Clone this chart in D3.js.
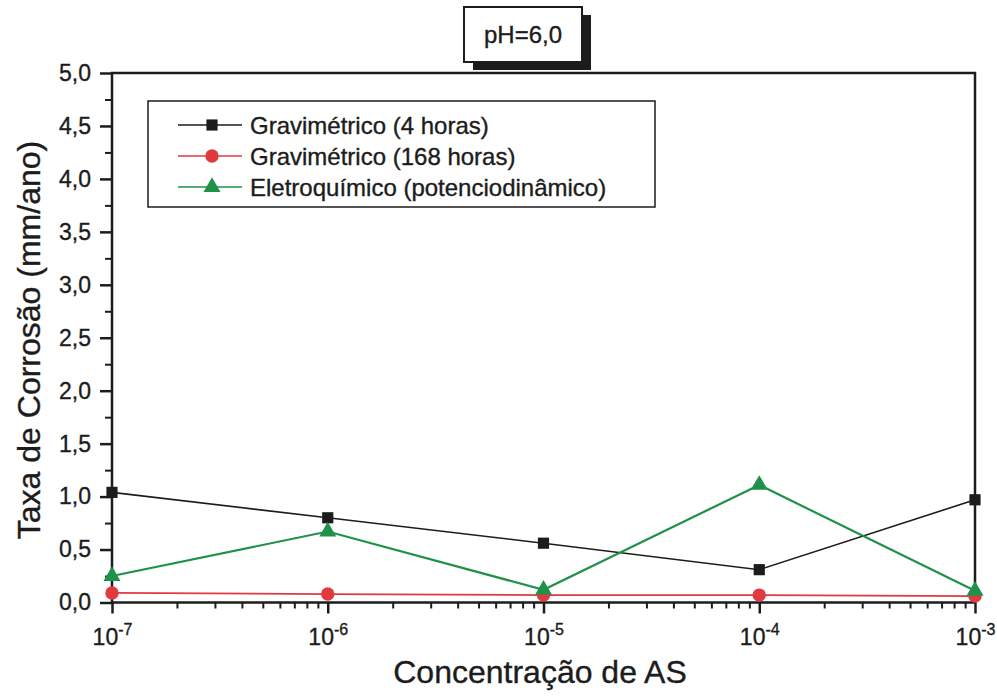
<!DOCTYPE html>
<html>
<head>
<meta charset="utf-8">
<script src="https://cdn.jsdelivr.net/npm/d3@7"></script>
<style>
  body { margin: 0; background: #fff; }
  svg { font-family: "Liberation Sans", Arial, sans-serif; }
  svg text { stroke: #1c1c1c; stroke-width: 0.35px; }
</style>
</head>
<body>
<svg id="chart" width="997" height="698"></svg>
<script>
// data
const concentrations = [1e-7, 1e-6, 1e-5, 1e-4, 1e-3];
const exponents = ['-7', '-6', '-5', '-4', '-3'];
const grav4h = [1.04, 0.80, 0.56, 0.31, 0.97];
const grav168h = [0.09, 0.08, 0.07, 0.07, 0.06];
const eletroquimico = [0.25, 0.67, 0.12, 1.11, 0.11];
const yTicks = [0, 0.5, 1, 1.5, 2, 2.5, 3, 3.5, 4, 4.5, 5];
const seriesNames = ['Gravimétrico (4 horas)', 'Gravimétrico (168 horas)', 'Eletroquímico (potenciodinâmico)'];
const title = 'pH=6,0';
const xTitle = 'Concentração de AS';
const yTitle = 'Taxa de Corrosão (mm/ano)';

const margin = {top: 73, right: 22, bottom: 96, left: 112};
const width = 997 - margin.left - margin.right;
const height = 698 - margin.top - margin.bottom + 0.5;

const svg = d3.select('#chart');
const chart = svg.append('g')
  .attr('transform', 'translate(' + margin.left + ',' + margin.top + ')');

const x = d3.scaleLog().domain([1e-7, 1e-3]).range([0, width]);
const y = d3.scaleLinear().domain([0, 5]).range([height, 0]);

const ink = '#1c1c1c';

// minor ticks
const xMinor = [];
concentrations.slice(0, -1).forEach((c) => {
  for (let k = 2; k <= 9; k++) xMinor.push(c * k);
});
const yMinor = d3.range(0.25, 5, 0.5);

chart.append('g')
  .attr('transform', 'translate(0,' + height + ')')
  .call(d3.axisBottom(x).tickValues(xMinor).tickSize(6).tickFormat(''))
  .call((g) => g.select('.domain').remove())
  .selectAll('line').attr('stroke', ink).attr('stroke-width', 2);

chart.append('g')
  .call(d3.axisLeft(y).tickValues(yMinor).tickSize(7).tickFormat(''))
  .call((g) => g.select('.domain').remove())
  .selectAll('line').attr('stroke', ink).attr('stroke-width', 2);

// major ticks
const xAxis = chart.append('g')
  .attr('transform', 'translate(0,' + height + ')')
  .call(d3.axisBottom(x).tickValues(concentrations).tickSize(11).tickFormat(''));
xAxis.select('.domain').remove();
xAxis.selectAll('line').attr('stroke', ink).attr('stroke-width', 2.5);
xAxis.selectAll('.tick').append('text')
  .attr('y', 42)
  .attr('fill', ink)
  .attr('text-anchor', 'middle')
  .style('font-size', '23px')
  .each(function(d, i) {
    const t = d3.select(this);
    t.append('tspan').text('10');
    t.append('tspan').attr('dy', -10).style('font-size', '16px').text(exponents[i]);
  });

const yAxis = chart.append('g')
  .call(d3.axisLeft(y).tickValues(yTicks).tickSize(12).tickPadding(8)
    .tickFormat((d) => d3.format('.1f')(d).replace('.', ',')));
yAxis.select('.domain').remove();
yAxis.selectAll('line').attr('stroke', ink).attr('stroke-width', 2.5);
yAxis.selectAll('text').attr('fill', ink).attr('x', -21).style('font-size', '23px');

// frame
chart.append('rect')
  .attr('width', width)
  .attr('height', height)
  .attr('fill', 'none')
  .attr('stroke', ink)
  .attr('stroke-width', 2.5);

// series
const series = [
  {name: seriesNames[0], values: grav4h, color: '#1c1c1c', width: 1.6, symbol: d3.symbolSquare, size: 125},
  {name: seriesNames[1], values: grav168h, color: '#e03a40', width: 1.8, symbol: d3.symbolCircle, size: 140},
  {name: seriesNames[2], values: eletroquimico, color: '#1f9148', width: 2.2, symbol: d3.symbolTriangle, size: 125}
];

const line = d3.line()
  .x((d) => x(d[0]))
  .y((d) => y(d[1]));

series.forEach((s) => {
  const pts = concentrations.map((c, i) => [c, s.values[i]]);
  chart.append('path')
    .datum(pts)
    .attr('d', line)
    .attr('fill', 'none')
    .attr('stroke', s.color)
    .attr('stroke-width', s.width);
  chart.selectAll(null)
    .data(pts)
    .enter().append('path')
    .attr('transform', (d) => 'translate(' + x(d[0]) + ',' + y(d[1]) + ')')
    .attr('d', d3.symbol().type(s.symbol).size(s.size))
    .attr('fill', s.color);
});

// legend
const legend = svg.append('g').attr('transform', 'translate(148,101)');
legend.append('rect')
  .attr('width', 507)
  .attr('height', 106)
  .attr('fill', '#fff')
  .attr('stroke', ink)
  .attr('stroke-width', 1.5);

const item = legend.selectAll('.item')
  .data(series)
  .enter().append('g')
  .attr('class', 'item')
  .attr('transform', (d, i) => 'translate(0,' + (24 + i * 31) + ')');
item.append('line')
  .attr('x1', 30).attr('x2', 94)
  .attr('stroke', (d) => d.color)
  .attr('stroke-width', 1.5);
item.append('path')
  .attr('transform', 'translate(64,0)')
  .attr('d', (d) => d3.symbol().type(d.symbol).size(d.size)())
  .attr('fill', (d) => d.color);
item.append('text')
  .attr('x', 102)
  .attr('dy', '0.36em')
  .attr('fill', ink)
  .style('font-size', '24px')
  .text((d) => d.name);

// title box with shadow
const tb = svg.append('g').attr('transform', 'translate(464,7)');
tb.append('rect')
  .attr('x', 9).attr('y', 8)
  .attr('width', 118).attr('height', 55)
  .attr('fill', ink);
tb.append('rect')
  .attr('width', 118).attr('height', 55)
  .attr('fill', '#fff')
  .attr('stroke', ink)
  .attr('stroke-width', 2);
tb.append('text')
  .attr('x', 59).attr('y', 36)
  .attr('text-anchor', 'middle')
  .attr('fill', ink)
  .style('font-size', '24px')
  .text(title);

// axis titles
svg.append('text')
  .attr('x', 540)
  .attr('y', 683)
  .attr('text-anchor', 'middle')
  .attr('fill', ink)
  .style('font-size', '32px')
  .text(xTitle);

svg.append('text')
  .attr('transform', 'translate(40,340) rotate(-90)')
  .attr('text-anchor', 'middle')
  .attr('fill', ink)
  .style('font-size', '32px')
  .text(yTitle);
</script>
</body>
</html>
